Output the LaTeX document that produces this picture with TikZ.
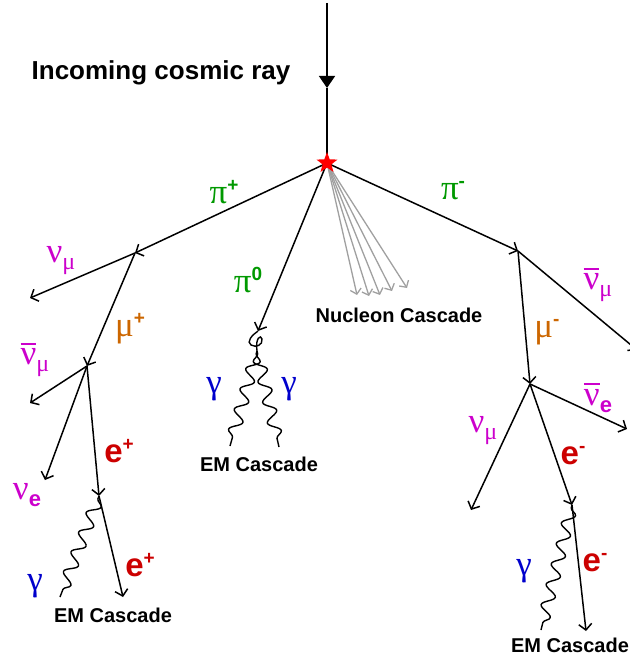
\documentclass[tikz,border=0pt]{standalone}
\usepackage{fontspec}
\setmainfont{Liberation Sans}
\newfontfamily\gk{Liberation Serif}
\usetikzlibrary{arrows.meta,decorations.pathmorphing,shapes.geometric}
\definecolor{pgreen}{RGB}{0,153,0}
\definecolor{pmag}{RGB}{204,0,204}
\definecolor{porange}{RGB}{204,102,0}
\definecolor{pred}{RGB}{204,0,0}
\definecolor{pblue}{RGB}{0,0,204}
\definecolor{pgray}{RGB}{160,160,160}
\newcommand\G[1]{{\gk\fontsize{35}{35}\selectfont #1}}
\newcommand\E[1]{{\fontsize{33}{33}\selectfont\bfseries #1}}
\newcommand\supp[1]{\raisebox{12pt}{\fontsize{19}{19}\selectfont\bfseries #1}}
\newcommand\subg[1]{\raisebox{-7pt}{\gk\fontsize{24}{24}\selectfont #1}}
\newcommand\sube[1]{\raisebox{-7pt}{\fontsize{22}{22}\selectfont\bfseries #1}}
\newcommand\ovl[1]{\setbox0\hbox{#1}\rlap{\raisebox{\dimexpr\ht0+4pt\relax}{\rule{\wd0}{1.8pt}}}\box0}
\tikzset{
  ln/.style={line width=1.5pt,-{Straight Barb[length=6pt,width=13pt,line width=1.5pt]}},
  gl/.style={line width=1.3pt,pgray,-{Straight Barb[length=5pt,width=11pt,line width=1.3pt]}},
  ph/.style={line width=1.4pt,decorate,decoration={snake,amplitude=6pt,segment length=21pt,pre length=3pt,post length=3pt}},
  lab/.style={inner sep=0pt,anchor=center},
  casc/.style={inner sep=0pt,anchor=center,font=\fontsize{20}{20}\selectfont\bfseries},
}
\begin{document}
\begin{tikzpicture}[x=1pt,y=-1pt]
\useasboundingbox (0,0) rectangle (629,658);
% vertices
\coordinate (top) at (327,3);
\coordinate (mid) at (327,88);
\coordinate (v0) at (327,163);
\coordinate (vpp) at (135,253);
\coordinate (vmp) at (87,366);
\coordinate (vep) at (99,496);
\coordinate (vpm) at (518,251);
\coordinate (vmm) at (530,384);
\coordinate (vem) at (572,505);
\coordinate (vp0) at (258,331);
\coordinate (vg0) at (257,351);
% free ends
\coordinate (numuL) at (30,298);
\coordinate (numubL) at (30,403);
\coordinate (nueL) at (45,480);
\coordinate (epL) at (123,597);
\coordinate (gL) at (60,597);
\coordinate (g0a) at (230,446);
\coordinate (g0b) at (279,447);
\coordinate (numubR) at (637,350);
\coordinate (nuebR) at (627,429);
\coordinate (numuR) at (471,510);
\coordinate (emR) at (586,631);
\coordinate (gR) at (541,630);
\coordinate (n1) at (357,295);
\coordinate (n2) at (369,296);
\coordinate (n3) at (380,295);
\coordinate (n4) at (392,291);
\coordinate (n5) at (407,288);

% incoming
\draw[line width=1.5pt,-{Triangle[length=12pt,width=16pt]}] (top) -- (mid);
\draw[line width=1.5pt] (mid) -- (v0);
% nucleon cascade
\foreach \n in {n1,n2,n3,n4,n5} \draw[gl] (v0) -- (\n);
% main branches
\draw[ln] (v0) -- (vpp);
\draw[ln] (v0) -- (vpm);
\draw[ln] (v0) -- (vp0);
% pi+ branch
\draw[ln] (vpp) -- (numuL);
\draw[ln] (vpp) -- (vmp);
\draw[ln] (vmp) -- (numubL);
\draw[ln] (vmp) -- (nueL);
\draw[ln] (vmp) -- (vep);
\draw[ln] (vep) -- (epL);
\draw[ph] (vep) -- (gL);
% pi0 branch
\draw[line width=1.4pt] (vp0) .. controls (252,335) and (246,342) .. (251,345) .. controls (256,348) and (263,345) .. (262,339) .. controls (261,334) and (255,338) .. (vg0);
\draw[ph] (vg0) -- (g0a);
\draw[ph,decoration={mirror}] (vg0) -- (g0b);
% pi- branch
\draw[ln] (vpm) -- (numubR);
\draw[ln] (vpm) -- (vmm);
\draw[ln] (vmm) -- (nuebR);
\draw[ln] (vmm) -- (numuR);
\draw[ln] (vmm) -- (vem);
\draw[ln] (vem) -- (emR);
\draw[ph] (vem) -- (gR);
% star
\node[star,star points=5,star point ratio=2.4,fill=red,inner sep=0pt,minimum size=22pt] (star) at (v0) {};

% labels
\node[lab,font=\fontsize{26}{26}\selectfont\bfseries] (title) at (161,73) {Incoming cosmic ray};
\node[lab,pgreen] (lpip) at (224,192) {\G{π}\supp{+}};
\node[lab,pmag] (lnumuL) at (61,261) {\G{ν}\subg{μ}};
\node[lab,porange] (lmup) at (130,329) {\G{μ}\supp{+}};
\node[lab,pmag] (lnumubL) at (35,360) {\ovl{\G{ν}}\subg{μ}};
\node[lab,pred] (lep1) at (119,451) {\E{e}\supp{+}};
\node[lab,pmag] (lnueL) at (27,495) {\G{ν}\sube{e}};
\node[lab,pred] (lep2) at (140,565) {\E{e}\supp{+}};
\node[lab,pblue] (lgL) at (35,586) {\G{γ}};
\node[casc] (cL) at (113,615) {EM Cascade};
\node[lab,pgreen] (lpi0) at (248,280) {\G{π}\supp{0}};
\node[lab,pblue] (lg0a) at (214,389) {\G{γ}};
\node[lab,pblue] (lg0b) at (289,389) {\G{γ}};
\node[casc] (cM) at (259,464) {EM Cascade};
\node[casc] (cN) at (399,315) {Nucleon Cascade};
\node[lab,pgreen] (lpim) at (453,191) {\G{π}\supp{-}};
\node[lab,pmag] (lnumubR) at (598,285) {\ovl{\G{ν}}\subg{μ}};
\node[lab,porange] (lmum) at (547,332) {\G{μ}\supp{-}};
\node[lab,pmag] (lnuebR) at (598,398) {\ovl{\G{ν}}\sube{e}};
\node[lab,pmag] (lnumuR) at (483,431) {\G{ν}\subg{μ}};
\node[lab,pred] (lem1) at (573,456) {\E{e}\supp{-}};
\node[lab,pred] (lem2) at (595,563) {\E{e}\supp{-}};
\node[lab,pblue] (lgR) at (524,571) {\G{γ}};
\node[casc] (cR) at (570,645) {EM Cascade};
\end{tikzpicture}
\end{document}
